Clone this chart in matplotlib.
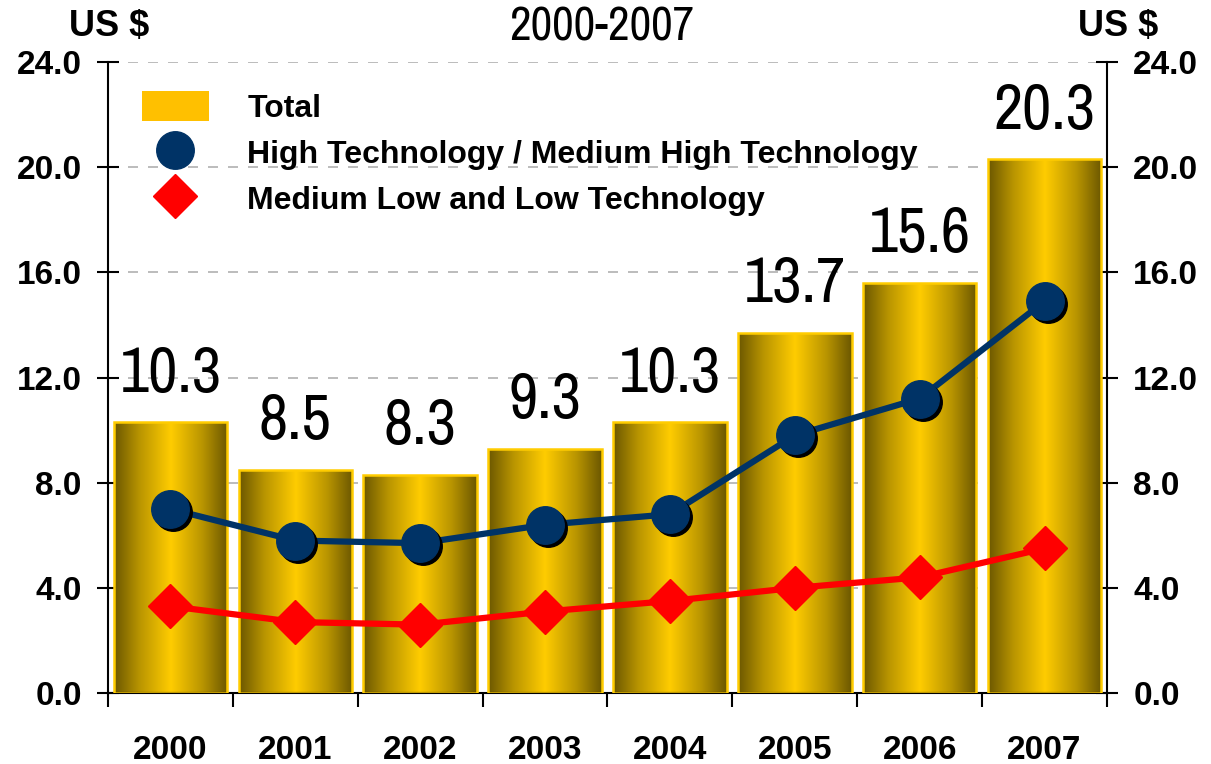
import numpy as np
import matplotlib
matplotlib.use("Agg")
import matplotlib.pyplot as plt
import matplotlib.transforms as mtransforms
from matplotlib.colors import LinearSegmentedColormap
from matplotlib.lines import Line2D
from matplotlib.patches import Patch

years = ["2000", "2001", "2002", "2003", "2004", "2005", "2006", "2007"]
total = [10.3, 8.5, 8.3, 9.3, 10.3, 13.7, 15.6, 20.3]
high_tech = [7.0, 5.8, 5.7, 6.4, 6.8, 9.8, 11.2, 14.9]
low_tech = [3.3, 2.7, 2.6, 3.1, 3.5, 4.0, 4.4, 5.5]
yticks = [0, 4, 8, 12, 16, 20, 24]

narrow = ["Liberation Sans Narrow", "Archivo Narrow", "Roboto Condensed",
          "Fira Sans Condensed", "DejaVu Sans"]
bold = ["Liberation Sans", "DejaVu Sans"]

fig = plt.figure(figsize=(12.11, 7.64), dpi=100)
ax = fig.add_axes([0.0892, 0.0929, 0.9141 - 0.0892, 0.9188 - 0.0929])

gold = LinearSegmentedColormap.from_list(
    "gold", [(0, "#6b5700"), (0.22, "#b89400"), (0.5, "#ffcc00"),
             (0.78, "#b89400"), (1, "#6b5700")])
grad = np.linspace(0, 1, 256).reshape(1, -1)

x = np.arange(len(years))
bw = 0.91
bars = ax.bar(x, total, width=bw, facecolor="none", edgecolor="#ffcc00",
              linewidth=1.8, zorder=3)
for b in bars:
    x0, w, h = b.get_x(), b.get_width(), b.get_height()
    im = ax.imshow(grad, cmap=gold, extent=(x0, x0 + w, 0, h),
                   aspect="auto", zorder=2, interpolation="bilinear")
    im.set_clip_path(b)

for xi, v in zip(x, total):
    ax.annotate(f"{v:.1f}", (xi, v), xytext=(0, 22), textcoords="offset points",
                ha="center", va="baseline", fontsize=46, family=narrow, zorder=6)

# blue line with shadowed markers
shadow = mtransforms.offset_copy(ax.transData, fig=fig, x=3, y=-3, units="dots")
ax.plot(x, high_tech, color="#003366", lw=4.5, zorder=4)
ax.plot(x, high_tech, "o", ms=27, color="black", transform=shadow, zorder=4.5)
ax.plot(x, high_tech, "o", ms=27, color="#003366", zorder=5)

ax.plot(x, low_tech, color="#ff0000", lw=4.5, zorder=4)
ax.plot(x, low_tech, "D", ms=22, color="#ff0000", zorder=5)

ax.set_xlim(-0.5, len(years) - 0.5)
ax.set_ylim(0, 24)

ax.set_yticks(yticks)
ax.set_yticklabels([f"{t:.1f}" for t in yticks])
ax.tick_params(axis="y", direction="inout", length=16, width=1.5,
               right=True, labelright=True, labelsize=24, pad=11)
for t in ax.yaxis.get_major_ticks():
    for lab in (t.label1, t.label2):
        lab.set_fontweight("bold")
        lab.set_family(bold)

ax.set_xticks(x)
ax.set_xticklabels(years, fontsize=24, fontweight="bold", family=bold)
ax.set_xticks(np.arange(-0.5, len(years), 1), minor=True)
ax.tick_params(axis="x", which="major", length=0, pad=30)
ax.tick_params(axis="x", which="minor", length=10, width=1.5, direction="out")

ax.yaxis.grid(True, color="#b0b0b0", linestyle=(0, (6, 6)), lw=1.2)
ax.set_axisbelow(True)
for s in ["left", "right", "bottom"]:
    ax.spines[s].set_linewidth(1.5)
ax.spines["top"].set_visible(False)

fig.text(0.497, 0.965, "2000-2007", ha="center", va="center", fontsize=34, family=narrow)
fig.text(0.090, 0.965, "US $", ha="center", va="center", fontsize=26,
         fontweight="bold", family=bold)
fig.text(0.923, 0.965, "US $", ha="center", va="center", fontsize=26,
         fontweight="bold", family=bold)

handles = [
    Patch(facecolor="#ffc000", edgecolor="none"),
    Line2D([], [], marker="o", ls="none", ms=27, color="#003366"),
    Line2D([], [], marker="D", ls="none", ms=22, color="#ff0000"),
]
labels = ["Total", "High Technology / Medium High Technology",
          "Medium Low and Low Technology"]
leg = ax.legend(handles, labels, loc="upper left", bbox_to_anchor=(0.005, 1.0),
                frameon=False, prop={"family": bold, "weight": "bold", "size": 23},
                handlelength=2.1, handleheight=1.1, labelspacing=0.4,
                handletextpad=1.2)

fig.savefig("out.png", dpi=100)
